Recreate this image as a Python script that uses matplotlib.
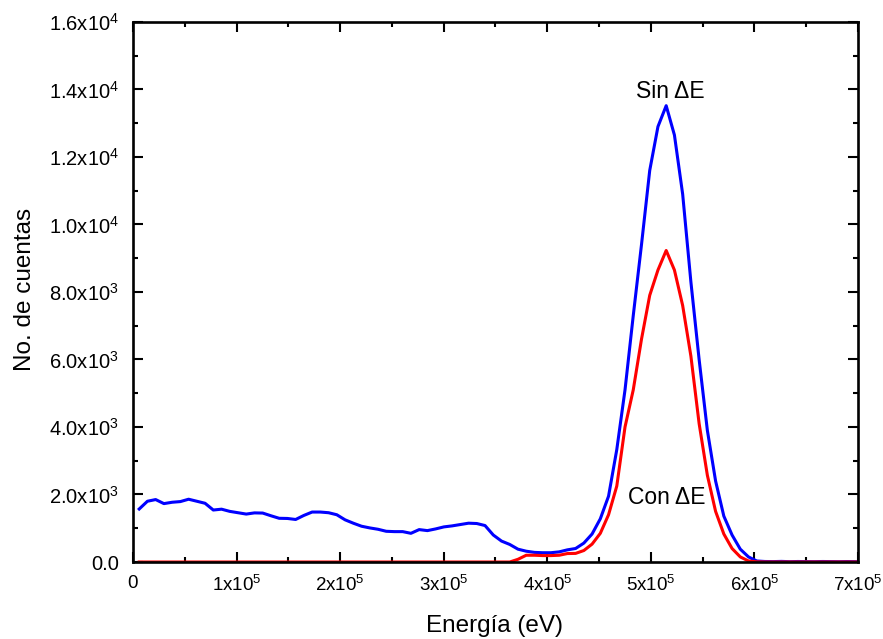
import matplotlib
matplotlib.use('Agg')
import matplotlib.pyplot as plt
from matplotlib.ticker import MultipleLocator, FuncFormatter

plt.rcParams['font.family'] = ['Liberation Sans', 'DejaVu Sans']
plt.rcParams['mathtext.fontset'] = 'custom'
plt.rcParams['mathtext.rm'] = 'Liberation Sans'
plt.rcParams['mathtext.it'] = 'Liberation Sans:italic'

# energy of each channel (eV)
energia = [
    6000, 13950, 21900, 29850, 37800, 45750, 53700, 61650, 69600, 77550,
    85500, 93450, 101400, 109350, 117300, 125250, 133200, 141150, 149100, 157050,
    165000, 172950, 180900, 188850, 196800, 204750, 212700, 220650, 228600, 236550,
    244500, 252450, 260400, 268350, 276300, 284250, 292200, 300150, 308100, 316050,
    324000, 331950, 339900, 347850, 355800, 363750, 371700, 379650, 387600, 395550,
    403500, 411450, 419400, 427350, 435300, 443250, 451200, 459150, 467100, 475050,
    483000, 490950, 498900, 506850, 514800, 522750, 530700, 538650, 546600, 554550,
    562500, 570450, 578400, 586350, 594300, 602250, 610200, 618150, 626100, 634050,
    642000, 649950, 657900, 665850, 673800, 681750, 689700, 697650,
]

# counts without the dE detector
sin_dE = [
    1570, 1800, 1850, 1730, 1770, 1790, 1860, 1800, 1740, 1540,
    1565, 1500, 1460, 1420, 1455, 1450, 1370, 1295, 1290, 1260,
    1380, 1480, 1480, 1460, 1400, 1250, 1150, 1060, 1010, 970,
    910, 900, 900, 850, 960, 930, 980, 1040, 1070, 1110,
    1150, 1140, 1080, 800, 620, 520, 380, 320, 285, 275,
    275, 300, 360, 400, 560, 830, 1280, 1950, 3330, 5100,
    7300, 9400, 11600, 12900, 13520, 12650, 10900, 8300, 6000, 3900,
    2400, 1360, 800, 380, 150, 30, 15, 12, 18, 10,
    15, 12, 10, 15, 12, 10, 14, 10,
]

# counts with the dE detector
con_dE = [
    0, 0, 0, 0, 0, 0, 0, 0, 0, 0,
    0, 0, 0, 0, 0, 0, 0, 0, 0, 0,
    0, 0, 0, 0, 0, 0, 0, 0, 0, 0,
    0, 0, 0, 0, 0, 0, 0, 0, 0, 0,
    0, 0, 0, 0, 0, 0, 80, 200, 200, 190,
    190, 200, 250, 255, 340, 530, 850, 1400, 2250, 4000,
    5100, 6600, 7900, 8650, 9230, 8650, 7600, 6100, 4100, 2570,
    1500, 830, 400, 150, 30, 5, 0, 0, 0, 0,
    0, 0, 0, 0, 0, 0, 0, 0,
]

fig = plt.figure(figsize=(8.83, 6.39), dpi=100)
ax = fig.add_axes([0.1506, 0.1205, 0.8211, 0.8451])

ax.plot(energia, sin_dE, color='#0000ff', lw=2.2)
ax.plot(energia, con_dE, color='#ff0000', lw=2.2)

ax.set_xlim(0, 7e5)
ax.set_ylim(0, 1.6e4)


def fmt_x(v, pos):
    if v == 0:
        return '0'
    return r'%dx10$^{5}$' % round(v / 1e5)


def fmt_y(v, pos):
    if v == 0:
        return '0.0'
    e = 4 if v >= 1e4 else 3
    return r'%.1fx10$^{%d}$' % (v / 10 ** e, e)


ax.xaxis.set_major_locator(MultipleLocator(1e5))
ax.xaxis.set_minor_locator(MultipleLocator(5e4))
ax.yaxis.set_major_locator(MultipleLocator(2e3))
ax.yaxis.set_minor_locator(MultipleLocator(1e3))
ax.xaxis.set_major_formatter(FuncFormatter(fmt_x))
ax.yaxis.set_major_formatter(FuncFormatter(fmt_y))

ax.tick_params(which='both', direction='in', top=True, right=True, width=1.5)
ax.tick_params(which='major', length=7.5)
ax.tick_params(which='minor', length=3.8)
ax.tick_params(axis='x', labelsize=13.5, pad=9)
ax.tick_params(axis='y', labelsize=14.5, pad=10)
for s in ax.spines.values():
    s.set_linewidth(1.9)

ax.set_xlabel('Energía (eV)', fontsize=17.5)
ax.set_ylabel('No. de cuentas', fontsize=17.5)
ax.xaxis.set_label_coords(0.499, -0.099)
ax.yaxis.set_label_coords(-0.134, 0.504)

ax.text(5.185e5, 1.374e4, 'Sin ΔE', fontsize=16.5, ha='center', va='baseline')
ax.text(5.153e5, 1.72e3, 'Con ΔE', fontsize=16.5, ha='center', va='baseline')

fig.savefig('out.png', dpi=100)
